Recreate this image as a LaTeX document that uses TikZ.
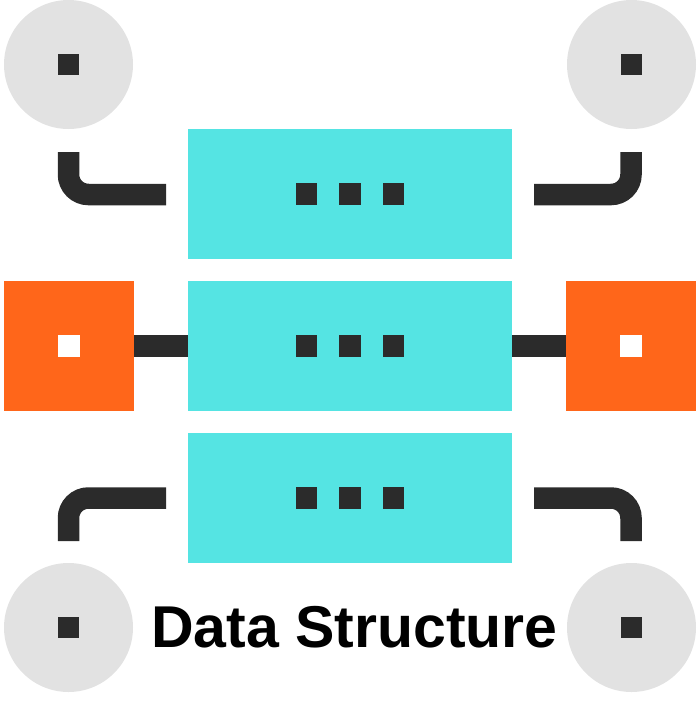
\documentclass[tikz,border=0pt]{standalone}
\usepackage{fontspec}
\setmainfont{Liberation Sans}
\definecolor{cyanbox}{HTML}{55E4E3}
\definecolor{orangebox}{HTML}{FF661A}
\definecolor{greycirc}{HTML}{E2E2E2}
\definecolor{darkline}{HTML}{2B2B2B}
\begin{document}
\begin{tikzpicture}[x=1pt,y=-1pt,
  circnode/.style={circle,fill=greycirc,minimum size=129pt,inner sep=0pt,outer sep=0pt},
  orangenode/.style={rectangle,fill=orangebox,minimum size=130pt,inner sep=0pt,outer sep=0pt},
  boxnode/.style={rectangle,fill=cyanbox,minimum width=324pt,minimum height=130pt,inner sep=0pt,outer sep=0pt},
  dotnode/.style={rectangle,fill=darkline,minimum size=21.5pt,inner sep=0pt,outer sep=0pt},
  whitedot/.style={rectangle,fill=white,minimum size=21.5pt,inner sep=0pt,outer sep=0pt},
  link/.style={draw=darkline,line width=21.5pt},
  elbow/.style={draw=darkline,line width=21.5pt,rounded corners=20pt}]
\useasboundingbox (0,0) rectangle (700,713);
% circles
\node[circnode] (ctl) at (68.5,64.5) {};
\node[circnode] (ctr) at (631.5,64.5) {};
\node[circnode] (cbl) at (68.5,627.5) {};
\node[circnode] (cbr) at (631.5,627.5) {};
\node[dotnode] (dtl) at (ctl) {};
\node[dotnode] (dtr) at (ctr) {};
\node[dotnode] (dbl) at (cbl) {};
\node[dotnode] (dbr) at (cbr) {};
% orange squares
\node[orangenode] (ol) at (69,346) {};
\node[orangenode] (or) at (631,346) {};
\node[whitedot] (wl) at (ol) {};
\node[whitedot] (wr) at (or) {};
% cyan boxes
\node[boxnode] (b1) at (350,194) {};
\node[boxnode] (b2) at (350,346) {};
\node[boxnode] (b3) at (350,498) {};
\foreach \b in {b1,b2,b3}{
  \node[dotnode] (\b a) at ([xshift=-43.5pt]\b.center) {};
  \node[dotnode] (\b b) at (\b.center) {};
  \node[dotnode] (\b c) at ([xshift=43.5pt]\b.center) {};
}
% connector end points
\coordinate (tls) at (68.5,152);
\coordinate (tlc) at (68.5,194.5);
\coordinate (tle) at (166,194.5);
\coordinate (trs) at (631,152);
\coordinate (trc) at (631,194.5);
\coordinate (tre) at (534,194.5);
\coordinate (bls) at (68.5,541);
\coordinate (blc) at (68.5,498);
\coordinate (ble) at (166,498);
\coordinate (brs) at (631,541);
\coordinate (brc) at (631,498);
\coordinate (bre) at (534,498);
% connectors
\draw[elbow] (tls) -- (tlc) -- (tle);
\draw[elbow] (trs) -- (trc) -- (tre);
\draw[elbow] (bls) -- (blc) -- (ble);
\draw[elbow] (brs) -- (brc) -- (bre);
\draw[link] (ol.east) -- (b2.west);
\draw[link] (b2.east) -- (or.west);
% title
\node[anchor=base,inner sep=0pt,font=\fontsize{59}{59}\selectfont\bfseries] (title) at (354.5,647) {Data Structure};
\end{tikzpicture}
\end{document}
